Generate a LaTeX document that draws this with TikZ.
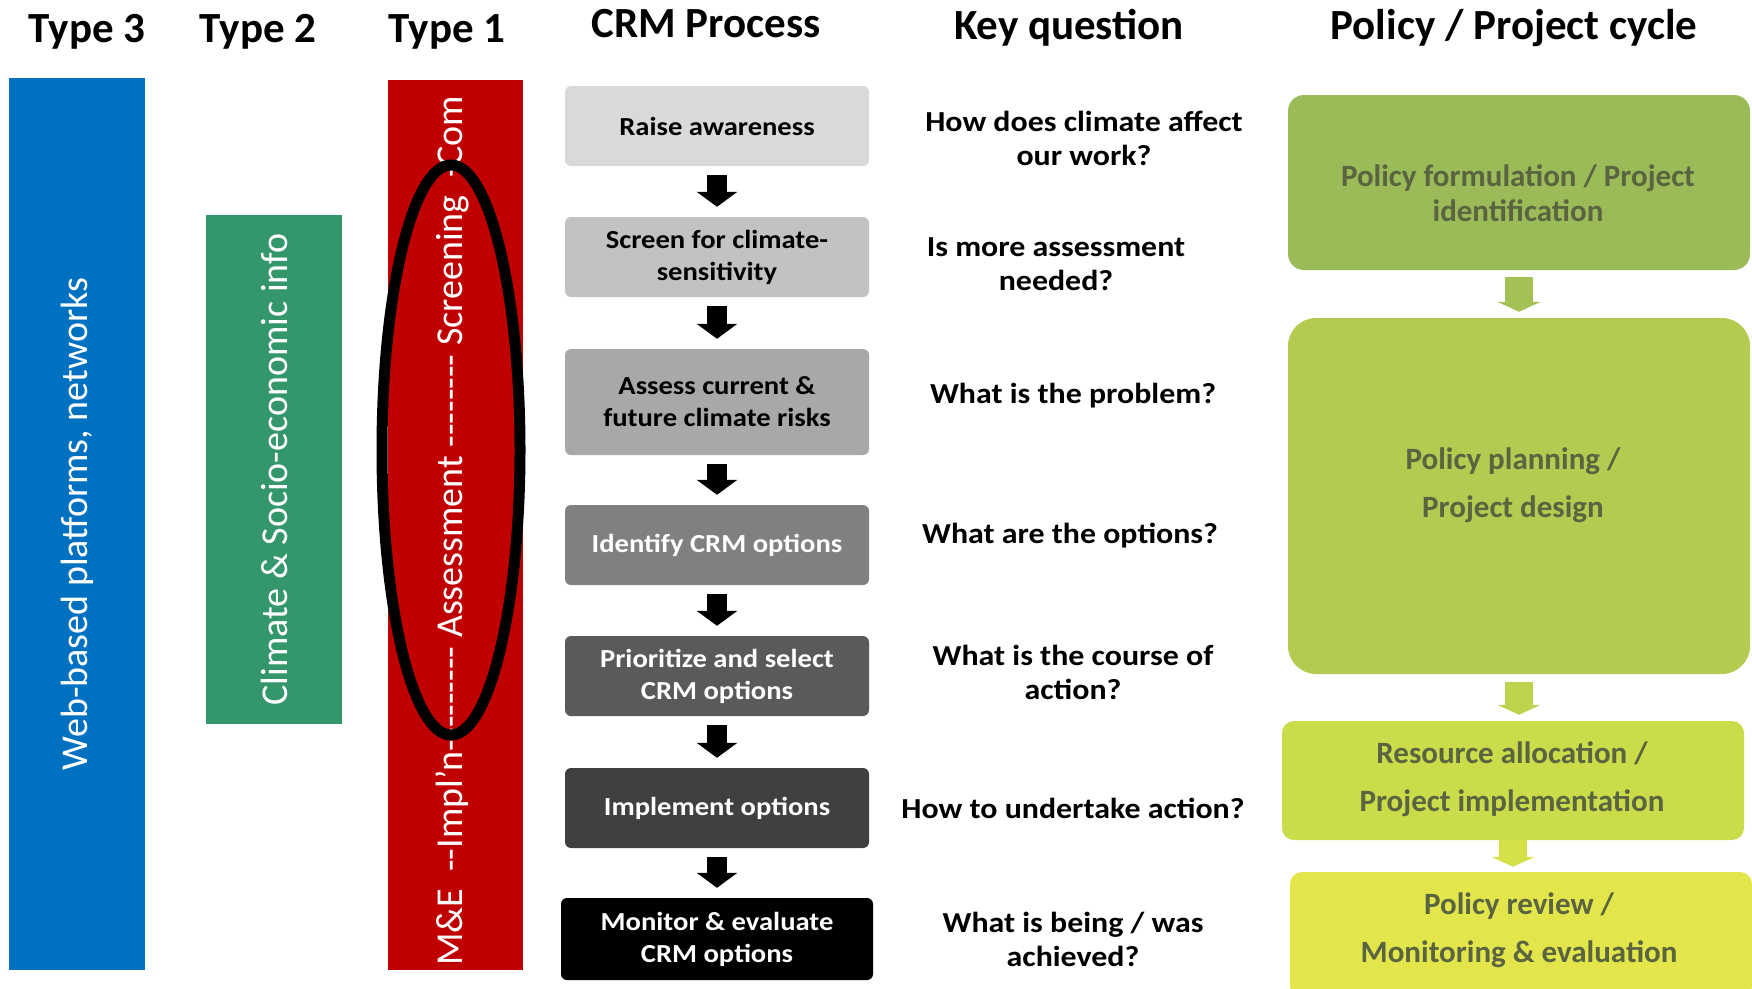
\documentclass[tikz,border=0pt]{standalone}
\usepackage{fontspec}
\setmainfont{Carlito}
\newfontfamily\qfont[FakeStretch=1.1]{Carlito}
\usetikzlibrary{arrows.meta,shapes.geometric}
\definecolor{barblue}{HTML}{0070C0}
\definecolor{bargreen}{HTML}{34966B}
\definecolor{barred}{HTML}{C00000}
\definecolor{crmA}{HTML}{D9D9D9}
\definecolor{crmB}{HTML}{C2C2C2}
\definecolor{crmC}{HTML}{A8A8A8}
\definecolor{crmD}{HTML}{808080}
\definecolor{crmE}{HTML}{5A5A5A}
\definecolor{crmF}{HTML}{404040}
\definecolor{polyA}{HTML}{9BBB59}
\definecolor{polyB}{HTML}{B2CB50}
\definecolor{polyC}{HTML}{CADC4A}
\definecolor{polyD}{HTML}{E2E64A}
\definecolor{polyarrA}{HTML}{A4C155}
\definecolor{polyarrB}{HTML}{BED34D}
\definecolor{polyarrC}{HTML}{D6E049}
\definecolor{polytext}{HTML}{5A6440}
\newcommand\dashrun[1]{\foreach \n in {1,...,#1}{\mbox{-}}}

\begin{document}
\begin{tikzpicture}[x=1pt, y=-1pt,
        title/.style={anchor=base, font=\fontsize{43}{50}\selectfont\bfseries},
        bar/.style={rotate=90, text=white, inner sep=0pt, font=\fontsize{38}{44}\selectfont},
        crm/.style={rounded corners=6pt, minimum width=304pt, minimum height=80pt, inner sep=0pt, align=center, font=\qfont\fontsize{26}{32}\selectfont\bfseries},
        question/.style={align=center, font=\qfont\fontsize{29}{34}\selectfont\bfseries},
        policy/.style={minimum width=462pt, inner sep=0pt},
        policytext/.style={align=center, text=polytext, font=\fontsize{31}{48}\selectfont\bfseries},
        crmarrow/.style={line width=20pt, -{Triangle[width=40pt, length=15pt]}},
        polyarrow/.style={line width=28pt, -{Triangle[width=43pt, length=10pt]}}
    ]
            \useasboundingbox (0,0) rectangle (1752,988);

            \node[title] (type3) at (87,42) {Type 3};
            \node[title] (type2) at (258,42) {Type 2};
            \node[title] (type1) at (447,42) {Type 1};
            \node[title] (crmhead) at (706,37) {CRM Process};
            \node[title] (keyhead) at (1069,39) {Key question};
            \node[title] (cyclehead) at (1514,39) {Policy / Project cycle};

            \node[bar, fill=barblue, minimum width=892pt, minimum height=136pt] (web) at (77,524) {Web-based platforms, networks};
            \node[bar, fill=bargreen, minimum width=509pt, minimum height=136pt] (info) at (274,469.5) {Climate \& Socio-economic info};
            \node[bar, fill=barred, minimum width=890pt, minimum height=135pt] (tools) at (455.5,525) {};
            \begin{scope}
                \clip (tools.south west) rectangle (tools.north east);
                \node[bar, anchor=west] (stages) at (452,966) {M\&E\ \ \dashrun{2}Impl’n\dashrun{9} Assessment \dashrun{8} Screening \ \dashrun{1}Com};
            \end{scope}
            \node[draw, ellipse, line width=11pt, inner sep=0pt, minimum width=138pt, minimum height=570pt] (oval) at (451,450) {};

            \node[crm, fill=crmA] (aware) at (717,126) {Raise\ awareness};
            \node[crm, fill=crmB] (screen) at (717,257) {Screen for climate-\\sensitivity};
            \node[crm, fill=crmC, minimum height=106pt] (assess) at (717,402) {Assess\ current \&\\future climate risks};
            \node[crm, fill=crmD, text=white] (identify) at (717,545) {Identify CRM options};
            \node[crm, fill=crmE, text=white] (prioritize) at (717,676) {Prioritize\ and select\\CRM options};
            \node[crm, fill=crmF, text=white] (implement) at (717,808) {Implement options};
            \node[crm, fill=black, text=white, minimum width=312pt, minimum height=82pt] (monitor) at (717,939) {Monitor \& evaluate\\CRM options};

            \draw[crmarrow, shorten <=9pt, shorten >=10pt] (aware) -- (screen);
            \draw[crmarrow, shorten <=9pt, shorten >=10pt] (screen) -- (assess);
            \draw[crmarrow, shorten <=9pt, shorten >=10pt] (assess) -- (identify);
            \draw[crmarrow, shorten <=9pt, shorten >=10pt] (identify) -- (prioritize);
            \draw[crmarrow, shorten <=9pt, shorten >=10pt] (prioritize) -- (implement);
            \draw[crmarrow, shorten <=9pt, shorten >=10pt] (implement) -- (monitor);

            \node[question] (q1) at (1084,138) {How does climate affect\\our work?};
            \node[question] (q2) at (1056,264) {Is more assessment\\needed?};
            \node[question] (q3) at (1073,396) {What is the problem?};
            \node[question] (q4) at (1070,536) {What are the options?};
            \node[question] (q5) at (1073,672) {What is the course of\\action?};
            \node[question] (q6) at (1073,808) {How to undertake action?};
            \node[question] (q7) at (1073,939) {What is being / was\\achieved?};

            \node[policy, fill=polyA, rounded corners=16pt, minimum height=175pt] (formulate) at (1519,182.5) {};
            \node[policy, fill=polyB, rounded corners=28pt, minimum height=356pt] (planning) at (1519,496) {};
            \node[policy, fill=polyC, rounded corners=12pt, minimum height=119pt] (allocate) at (1513,780.5) {};
            \node[policy, fill=polyD, rounded corners=12pt, minimum height=126pt] (review) at (1521,935) {};

            \node[policytext, font=\fontsize{31}{35}\selectfont\bfseries] (formulatetext) at (1518,193) {Policy formulation / Project\\identification};
            \node[policytext] (planningtext) at (1513,485) {Policy planning /\\Project design};
            \node[policytext] (allocatetext) at (1512,779) {Resource allocation /\\Project implementation};
            \node[policytext] (reviewtext) at (1519,930) {Policy review /\\Monitoring \& evaluation};

            \draw[polyarrow, draw=polyarrA, shorten <=7pt, shorten >=6pt] (formulate) -- (planning);
            \draw[polyarrow, draw=polyarrB, shorten <=8pt, shorten >=6pt] (planning.south) -- (planning.south |- allocate.north);
            \draw[polyarrow, draw=polyarrC, shorten >=5pt] (allocate.south) -- (allocate.south |- review.north);
\end{tikzpicture}
\end{document}
